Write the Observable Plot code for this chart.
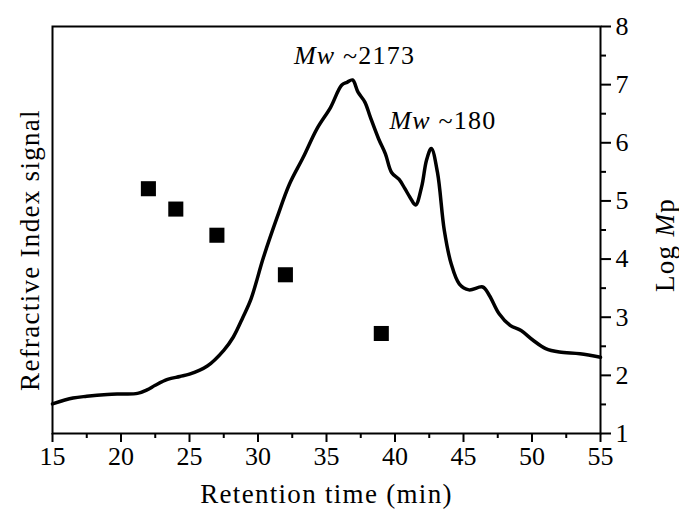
<!DOCTYPE html>
<html>
<head>
<meta charset="utf-8">
<script src="https://cdn.jsdelivr.net/npm/d3@7"></script>
<script src="https://cdn.jsdelivr.net/npm/@observablehq/plot@0.6"></script>
<style>
  html, body { margin: 0; padding: 0; background: #fff; }
  #chart { width: 679px; height: 509px; }
</style>
</head>
<body>
<div id="chart"></div>
<script>
// Refractive index trace (plotted on the Log Mp scale, since the left axis has no ticks)
const time = [15, 16.5, 17.5, 19, 20, 21.2, 21.9, 22.5, 23.4, 24.3, 25, 26.3, 27.5, 28.2, 28.9, 29.5,
  30.4, 31.4, 32.3, 33.3, 34.3, 35.3, 36.1, 36.5, 36.9, 37.3, 37.8, 38.2, 38.8, 39.3, 39.75,
  40.3, 40.7, 41.1, 41.5, 41.95, 42.3, 42.65, 43.1, 43.6, 44.1, 44.7, 45.4, 46.4, 46.9, 47.6,
  48.4, 49.2, 50.1, 51, 52, 53.5, 55];
const signal = [1.51, 1.61, 1.64, 1.67, 1.68, 1.69, 1.75, 1.83, 1.93, 1.98, 2.02, 2.16, 2.43, 2.66, 3.0, 3.32,
  4.03, 4.72, 5.29, 5.75, 6.24, 6.61, 6.99, 7.04, 7.08, 6.87, 6.70, 6.44, 6.07, 5.81, 5.49,
  5.37, 5.22, 5.06, 4.93, 5.25, 5.70, 5.90, 5.49, 4.49, 3.92, 3.57, 3.47, 3.52, 3.37, 3.06,
  2.86, 2.77, 2.60, 2.46, 2.40, 2.37, 2.31];

// Calibration standards (squares)
const stdTime = [22, 24, 27, 32, 39];
const stdLogMp = [5.21, 4.86, 4.41, 3.73, 2.72];

// Annotations
const noteText = ["Mw ~2173", "Mw ~180"];
const noteTime = [37.05, 43.5];
const noteY = [7.5, 6.38];

// Tick values
const xTicks = [15, 20, 25, 30, 35, 40, 45, 50, 55];
const xMinor = [17.5, 22.5, 27.5, 32.5, 37.5, 42.5, 47.5, 52.5];
const yTicks = [1, 2, 3, 4, 5, 6, 7, 8];
const yMinor = [1.5, 2.5, 3.5, 4.5, 5.5, 6.5, 7.5];

const curve = time.map((t, i) => ({t, s: signal[i]}));
const stds = stdTime.map((t, i) => ({t, v: stdLogMp[i]}));
const notes = noteText.map((label, i) => ({label, t: noteTime[i], v: noteY[i]}));

const FONT = "'Liberation Serif', 'Times New Roman', serif";

const chart = Plot.plot({
  width: 679,
  height: 509,
  marginLeft: 52,
  marginRight: 79,
  marginTop: 26,
  marginBottom: 76,
  x: {domain: [15, 55]},
  y: {domain: [1, 8]},
  style: {fontFamily: FONT, fontSize: "26px", color: "black", background: "white", overflow: "visible"},
  marks: [
    Plot.axisX(xMinor, {tickSize: 5, fill: "none", label: null, strokeWidth: 2}),
    Plot.axisX(xTicks, {tickSize: 9, tickPadding: 4, label: null, strokeWidth: 2, fontSize: 26, tickFormat: d => String(d)}),
    Plot.axisY(yMinor, {anchor: "right", tickSize: 5, fill: "none", label: null, strokeWidth: 2}),
    Plot.axisY(yTicks, {anchor: "right", tickSize: 10, tickPadding: 5, label: null, strokeWidth: 2, fontSize: 26, tickFormat: d => String(d)}),
    Plot.frame({stroke: "black", strokeWidth: 2}),
    Plot.line(curve, {x: "t", y: "s", curve: "catmull-rom", stroke: "black", strokeWidth: 3.5, strokeLinejoin: "round"}),
    Plot.dot(stds, {x: "t", y: "v", symbol: "square", r: 8.5, fill: "black", stroke: "none"}),
    Plot.text(notes, {x: "t", y: "v", text: "label", fontSize: 26, lineAnchor: "middle", fill: "black"}),
    Plot.text(["Retention time (min)"], {frameAnchor: "bottom", dy: 61, fontSize: 27, textAnchor: "middle", lineAnchor: "middle", fill: "black"}),
    Plot.text(["Refractive Index signal"], {frameAnchor: "left", dx: -22, dy: 20, rotate: -90, fontSize: 27, textAnchor: "middle", lineAnchor: "middle", fill: "black"}),
    Plot.text(["Log Mp"], {frameAnchor: "right", dx: 65, dy: 15, rotate: -90, fontSize: 27, textAnchor: "middle", lineAnchor: "middle", fill: "black"})
  ]
});

document.getElementById("chart").appendChild(chart);

// Mixed italic styling inside labels
d3.select(chart).selectAll("text").each(function() {
  const el = d3.select(this);
  const txt = this.textContent;
  if (txt.startsWith("Mw")) {
    el.text(null);
    el.append("tspan").attr("font-style", "italic").text("Mw");
    el.append("tspan").text(txt.slice(2));
    el.attr("letter-spacing", 1.2);
  } else if (txt === "Log Mp") {
    el.text(null);
    el.append("tspan").text("Log ");
    el.append("tspan").attr("font-style", "italic").text("M");
    el.append("tspan").text("p");
    el.attr("letter-spacing", 1.3);
  } else if (txt === "Retention time (min)" || txt === "Refractive Index signal") {
    el.attr("letter-spacing", 1.3);
  }
});
</script>
</body>
</html>
